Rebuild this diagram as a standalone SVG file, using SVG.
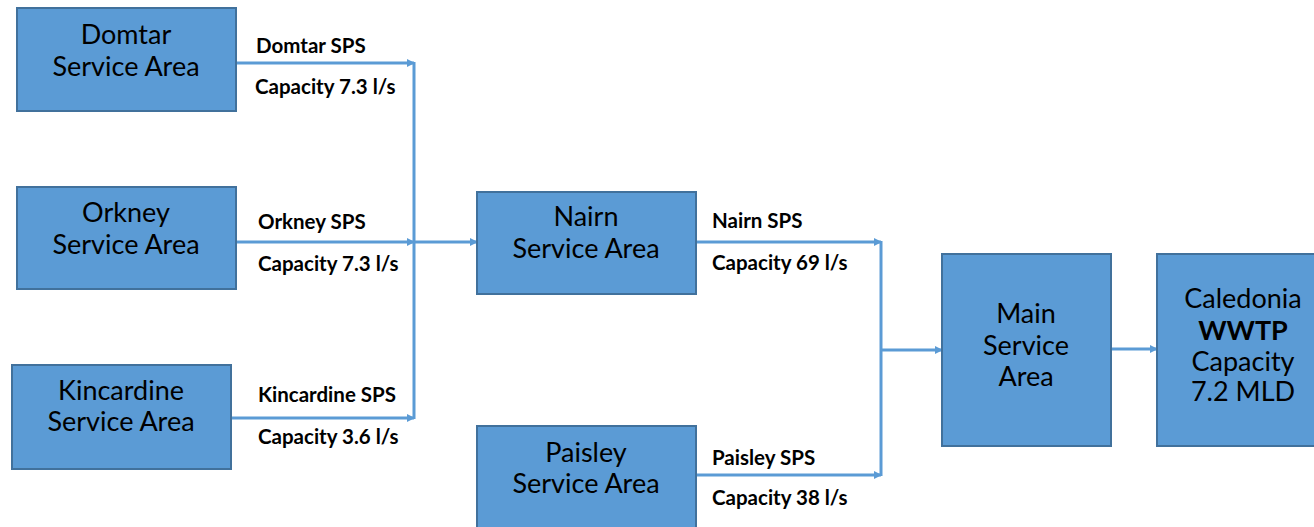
<svg xmlns="http://www.w3.org/2000/svg" width="1314" height="527" viewBox="0 0 1314 527">
<defs>
<marker id="ah" markerWidth="8" markerHeight="8" refX="7" refY="4" orient="auto" markerUnits="userSpaceOnUse">
<path d="M0,0 L8,4 L0,8 Z" fill="#5B9BD5"/>
</marker>
<style>
.box{fill:#5B9BD5;stroke:#41719C;stroke-width:2}
.bt{font-family:Lato,"Liberation Sans",sans-serif;font-size:27px;fill:#000;text-anchor:middle}
.lb{font-family:Lato,"Liberation Sans",sans-serif;font-size:20.5px;font-weight:bold;fill:#000}
.c{fill:none;stroke:#5B9BD5;stroke-width:3}
</style>
</defs>
<rect width="1314" height="527" fill="#fff"/>
<g id="connectors">
<line class="c" x1="236" y1="63" x2="414" y2="63" marker-end="url(#ah)"/>
<line class="c" x1="236" y1="242" x2="414" y2="242" marker-end="url(#ah)"/>
<line class="c" x1="231" y1="418" x2="414" y2="418" marker-end="url(#ah)"/>
<line class="c" x1="414" y1="62" x2="414" y2="419"/>
<line class="c" x1="414" y1="242" x2="477" y2="242" marker-end="url(#ah)"/>
<line class="c" x1="696" y1="242" x2="881" y2="242" marker-end="url(#ah)"/>
<line class="c" x1="696" y1="475" x2="881" y2="475" marker-end="url(#ah)"/>
<line class="c" x1="881" y1="241" x2="881" y2="476"/>
<line class="c" x1="881" y1="350" x2="942" y2="350" marker-end="url(#ah)"/>
<line class="c" x1="1111" y1="349" x2="1157" y2="349" marker-end="url(#ah)"/>
</g>
<g id="domtar">
<rect class="box" x="17" y="8" width="219" height="103"/>
<text class="bt" x="126" y="44">Domtar</text>
<text class="bt" x="126" y="76">Service Area</text>
</g>
<g id="orkney">
<rect class="box" x="17" y="187" width="219" height="102"/>
<text class="bt" x="126" y="222">Orkney</text>
<text class="bt" x="126" y="254">Service Area</text>
</g>
<g id="kincardine">
<rect class="box" x="12" y="365" width="219" height="104"/>
<text class="bt" x="121" y="400">Kincardine</text>
<text class="bt" x="121" y="431">Service Area</text>
</g>
<g id="nairn">
<rect class="box" x="477" y="192" width="219" height="102"/>
<text class="bt" x="586" y="226">Nairn</text>
<text class="bt" x="586" y="258">Service Area</text>
</g>
<g id="paisley">
<rect class="box" x="477" y="426" width="219" height="104"/>
<text class="bt" x="586" y="462">Paisley</text>
<text class="bt" x="586" y="493">Service Area</text>
</g>
<g id="main">
<rect class="box" x="942" y="254" width="169" height="192"/>
<text class="bt" x="1026" y="323">Main</text>
<text class="bt" x="1026" y="355">Service</text>
<text class="bt" x="1026" y="386">Area</text>
</g>
<g id="caledonia">
<rect class="box" x="1157" y="254" width="159" height="192"/>
<text class="bt" x="1243" y="308">Caledonia</text>
<text class="bt" x="1243" y="340" font-weight="bold">WWTP</text>
<text class="bt" x="1243" y="371">Capacity</text>
<text class="bt" x="1243" y="401">7.2 MLD</text>
</g>
<g id="labels">
<text class="lb" x="256" y="53">Domtar SPS</text>
<text class="lb" x="255" y="94">Capacity 7.3 l/s</text>
<text class="lb" x="258" y="229">Orkney SPS</text>
<text class="lb" x="258" y="271">Capacity 7.3 l/s</text>
<text class="lb" x="258" y="402">Kincardine SPS</text>
<text class="lb" x="258" y="444">Capacity 3.6 l/s</text>
<text class="lb" x="712" y="228">Nairn SPS</text>
<text class="lb" x="712" y="270">Capacity 69 l/s</text>
<text class="lb" x="712" y="465">Paisley SPS</text>
<text class="lb" x="712" y="505">Capacity 38 l/s</text>
</g>
</svg>
